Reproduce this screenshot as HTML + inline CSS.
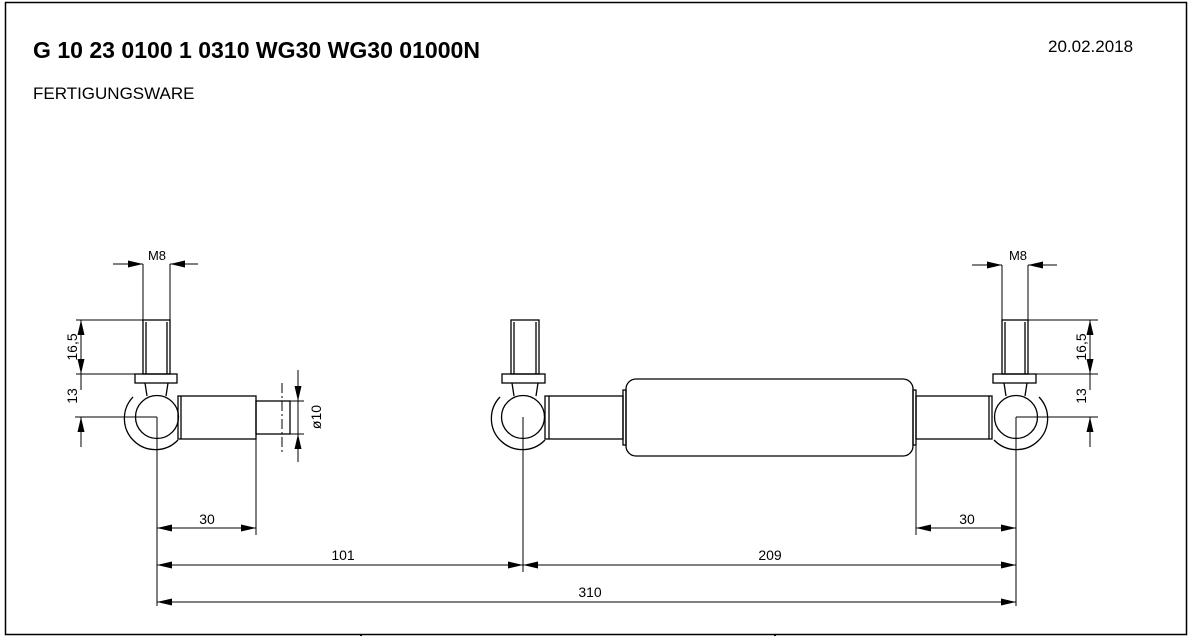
<!DOCTYPE html>
<html><head><meta charset="utf-8"><style>
html,body{margin:0;padding:0;background:#fff;width:1191px;height:636px;overflow:hidden}
svg{display:block}
text{font-family:"Liberation Sans",Arial,sans-serif;fill:#000}
</style></head><body>
<svg width="1191" height="636" viewBox="0 0 1191 636" xmlns="http://www.w3.org/2000/svg">
<defs>
<marker id="a" markerUnits="userSpaceOnUse" markerWidth="16" markerHeight="8" refX="15" refY="4" orient="auto-start-reverse" viewBox="0 0 16 8">
<path d="M0,0.5 L15,4 L0,7.5 Z" fill="#000"/></marker>
</defs>
<rect x="5.5" y="2.5" width="1181" height="632" fill="none" stroke="#000" stroke-width="1.5"/>
<line x1="361" y1="634" x2="361" y2="636" stroke="#000" stroke-width="2"/>
<line x1="775" y1="634" x2="775" y2="636" stroke="#000" stroke-width="2"/>
<text x="33" y="58" font-size="23" font-weight="bold" textLength="447" lengthAdjust="spacingAndGlyphs">G 10 23 0100 1 0310 WG30 WG30 01000N</text>
<text x="1048" y="52" font-size="17">20.02.2018</text>
<text x="33" y="99" font-size="17">FERTIGUNGSWARE</text>

<g fill="none" stroke="#000" stroke-width="1.3">
<rect x="143" y="320" width="27" height="54"/>
<line x1="146" y1="322" x2="146" y2="374"/><line x1="167" y1="322" x2="167" y2="374"/>
<rect x="135" y="374" width="42" height="9"/>
<path d="M145,383 L147,396 M168,383 L166,396"/>
<circle cx="157" cy="417" r="21.5"/>
<path d="M133,397 A31,31 0 0 0 178,440"/>
<rect x="178" y="396" width="78" height="43"/>
<line x1="181" y1="396" x2="181" y2="439"/>
<rect x="256" y="401" width="34" height="33"/>

<rect x="511" y="320" width="28" height="54"/>
<line x1="514" y1="322" x2="514" y2="374"/><line x1="536" y1="322" x2="536" y2="374"/>
<rect x="502" y="374" width="43" height="9"/>
<path d="M512,383 L514,396 M538,383 L536,396"/>
<circle cx="523" cy="417" r="21.5"/>
<path d="M500,397 A31,31 0 0 0 545,440"/>
<rect x="545" y="396" width="78" height="43"/>
<line x1="549" y1="396" x2="549" y2="439"/>
<rect x="623" y="390" width="3" height="55"/>
<rect x="626" y="379" width="287" height="77" rx="10"/>
<rect x="913" y="390" width="3" height="55"/>
<rect x="916" y="396" width="76" height="43"/>
<line x1="989" y1="396" x2="989" y2="439"/>

<rect x="1002" y="320" width="26" height="54"/>
<line x1="1005" y1="322" x2="1005" y2="374"/><line x1="1025" y1="322" x2="1025" y2="374"/>
<rect x="993" y="374" width="43" height="9"/>
<path d="M1004,383 L1006,396 M1027,383 L1025,396"/>
<circle cx="1016" cy="417" r="21.5"/>
<path d="M1039,397 A31,31 0 0 1 994,440"/>
</g>

<g fill="none" stroke="#000" stroke-width="1">
<line x1="143" y1="264" x2="143" y2="320"/><line x1="170" y1="264" x2="170" y2="320"/>
<line x1="113" y1="264" x2="143" y2="264" marker-end="url(#a)"/>
<line x1="198" y1="264" x2="170" y2="264" marker-end="url(#a)"/>
<line x1="76" y1="320" x2="143" y2="320"/><line x1="76" y1="374" x2="135" y2="374"/>
<line x1="75" y1="417" x2="157" y2="417"/>
<line x1="81" y1="320" x2="81" y2="374" marker-start="url(#a)" marker-end="url(#a)"/>
<line x1="81" y1="374" x2="81" y2="390"/>
<line x1="81" y1="447" x2="81" y2="417" marker-end="url(#a)"/>
<line x1="290" y1="401" x2="304" y2="401"/><line x1="290" y1="434" x2="304" y2="434"/>
<line x1="282" y1="383" x2="282" y2="453" stroke-dasharray="10,3,2,3"/>
<line x1="298" y1="370" x2="298" y2="401" marker-end="url(#a)"/>
<line x1="298" y1="462" x2="298" y2="434" marker-end="url(#a)"/>
<line x1="298" y1="401" x2="298" y2="434"/>
<line x1="1002" y1="265" x2="1002" y2="320"/><line x1="1028" y1="265" x2="1028" y2="320"/>
<line x1="972" y1="265" x2="1002" y2="265" marker-end="url(#a)"/>
<line x1="1057" y1="265" x2="1028" y2="265" marker-end="url(#a)"/>
<line x1="1028" y1="320" x2="1098" y2="320"/><line x1="1036" y1="374" x2="1098" y2="374"/>
<line x1="1016" y1="417" x2="1098" y2="417"/>
<line x1="1090" y1="320" x2="1090" y2="374" marker-start="url(#a)" marker-end="url(#a)"/>
<line x1="1090" y1="374" x2="1090" y2="390"/>
<line x1="1090" y1="447" x2="1090" y2="417" marker-end="url(#a)"/>
<line x1="157" y1="417" x2="157" y2="606"/>
<line x1="256" y1="439" x2="256" y2="535"/>
<line x1="523" y1="417" x2="523" y2="572"/>
<line x1="916" y1="445" x2="916" y2="535"/>
<line x1="1016" y1="417" x2="1016" y2="606"/>
<line x1="157" y1="528" x2="256" y2="528" marker-start="url(#a)" marker-end="url(#a)"/>
<line x1="157" y1="565" x2="523" y2="565" marker-start="url(#a)" marker-end="url(#a)"/>
<line x1="523" y1="565" x2="1016" y2="565" marker-start="url(#a)" marker-end="url(#a)"/>
<line x1="157" y1="602" x2="1016" y2="602" marker-start="url(#a)" marker-end="url(#a)"/>
<line x1="916" y1="528" x2="1016" y2="528" marker-start="url(#a)" marker-end="url(#a)"/>
</g>

<g font-size="14">
<text x="157" y="260" text-anchor="middle" font-size="13">M8</text>
<text x="1018" y="260" text-anchor="middle" font-size="13">M8</text>
<text transform="translate(77,347) rotate(-90)" text-anchor="middle">16,5</text>
<text transform="translate(77,396) rotate(-90)" text-anchor="middle">13</text>
<text transform="translate(1086,347) rotate(-90)" text-anchor="middle">16,5</text>
<text transform="translate(1086,396) rotate(-90)" text-anchor="middle">13</text>
<text transform="translate(321,417) rotate(-90)" text-anchor="middle">ø10</text>
<text x="207" y="524" text-anchor="middle">30</text>
<text x="343" y="560" text-anchor="middle">101</text>
<text x="770" y="560" text-anchor="middle">209</text>
<text x="590" y="597" text-anchor="middle">310</text>
<text x="967" y="524" text-anchor="middle">30</text>
</g>
</svg>
</body></html>
